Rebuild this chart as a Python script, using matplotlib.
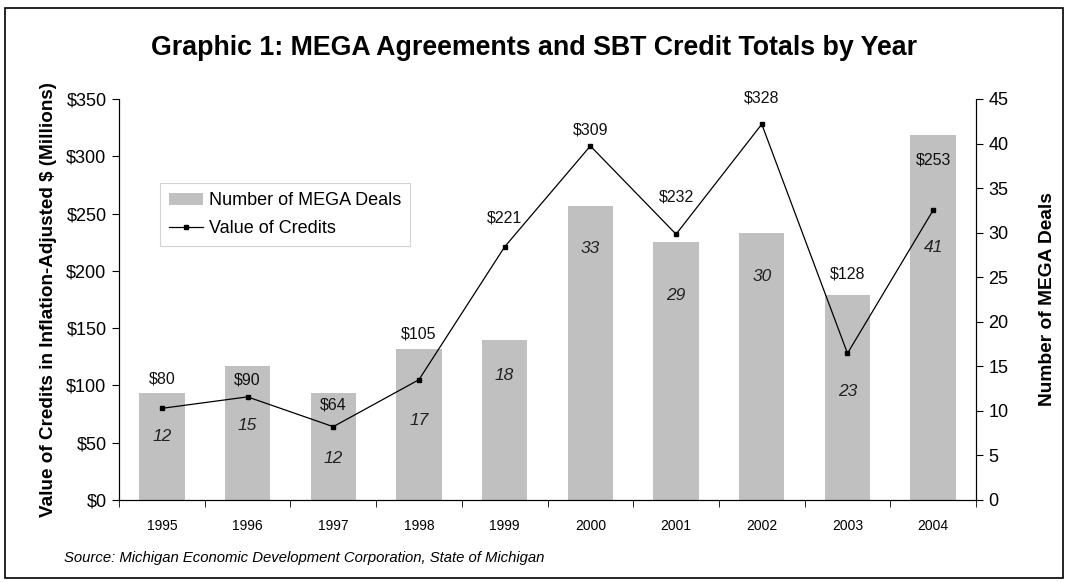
import numpy as np
import matplotlib.pyplot as plt
from matplotlib.ticker import FuncFormatter, MultipleLocator, FixedLocator
from matplotlib.patches import Rectangle

plt.rcParams['font.family'] = ['Liberation Sans', 'DejaVu Sans']

# data
years = ['1995', '1996', '1997', '1998', '1999', '2000', '2001', '2002', '2003', '2004']
deals = [12, 15, 12, 17, 18, 33, 29, 30, 23, 41]
credits = [80, 90, 64, 105, 221, 309, 232, 328, 128, 253]

# label heights as placed in the original chart
deal_label_y = [7.1, 8.4, 4.7, 8.9, 14.0, 28.2, 23.0, 25.1, 12.2, 28.3]
credit_label_y = [105.6, 104.7, 82.9, 144.9, 246.1, 322.9, 264.5, 350.9, 197.3, 296.8]

x = np.arange(len(years))

fig = plt.figure(figsize=(10.68, 5.82), dpi=100)
fig.patches.append(Rectangle((5 / 1068, 4 / 582), 1058 / 1068, 570 / 582,
                             transform=fig.transFigure, fill=False,
                             edgecolor='black', linewidth=1.2))

ax = fig.add_axes([0.1114, 0.1409, 0.8025, 0.689])
ax2 = ax.twinx()

# bars on the right axis
bars = ax.bar(x, deals, width=0.53, color='#c0c0c0', label='Number of MEGA Deals', zorder=2)
ax.set_ylim(0, 45)
ax.set_xlim(-0.5, 9.5)
ax.yaxis.tick_right()
ax.yaxis.set_label_position('right')
ax.yaxis.set_major_locator(MultipleLocator(5))
ax.set_ylabel('Number of MEGA Deals', fontsize=13.8, fontweight='bold', labelpad=22)
for i in range(len(years)):
    ax.text(x[i], deal_label_y[i], str(deals[i]), ha='center', va='center',
            fontsize=12.5, style='italic', color='#222222', zorder=3)

ax.set_xticks(x)
ax.set_xticklabels(years, fontsize=10)
ax.xaxis.set_minor_locator(FixedLocator(np.arange(-0.5, 10, 1.0)))
ax.tick_params(axis='x', which='major', length=0, pad=14)
ax.tick_params(axis='x', which='minor', length=5, direction='out')
ax.tick_params(axis='y', labelsize=13, length=5, direction='out', pad=4)
ax.spines['top'].set_visible(False)

# line on the left axis
ax2.yaxis.tick_left()
ax2.yaxis.set_label_position('left')
line, = ax2.plot(x, credits, color='black', linewidth=0.9, marker='s', markersize=3.5,
                 label='Value of Credits', zorder=4)
ax2.set_ylim(0, 350)
ax2.yaxis.set_major_locator(MultipleLocator(50))
ax2.yaxis.set_major_formatter(FuncFormatter(lambda v, p: '$%d' % v))
ax2.tick_params(axis='y', labelsize=13, length=5, direction='out', pad=4)
ax2.set_ylabel('Value of Credits in Inflation-Adjusted $ (Millions)', fontsize=13.6,
               fontweight='bold', labelpad=7)
ax2.spines['top'].set_visible(False)
for i in range(len(years)):
    ax2.text(x[i], credit_label_y[i], '$%d' % credits[i], ha='center', va='center',
             fontsize=11.5, color='#111111')

leg = ax2.legend([bars, line], ['Number of MEGA Deals', 'Value of Credits'],
                 loc='upper left', bbox_to_anchor=(0.048, 0.79), fontsize=13,
                 frameon=True, fancybox=False, edgecolor='#c8c8c8', borderaxespad=0,
                 handlelength=1.9, handletextpad=0.3, borderpad=0.5, labelspacing=0.6)
leg.get_frame().set_linewidth(0.8)

fig.text(0.5, 0.917, 'Graphic 1: MEGA Agreements and SBT Credit Totals by Year',
         ha='center', va='center', fontsize=19.3, fontweight='bold')
fig.text(0.06, 0.041, 'Source: Michigan Economic Development Corporation, State of Michigan',
         ha='left', va='center', fontsize=10.7, style='italic')

fig.savefig('out.png', dpi=100)
